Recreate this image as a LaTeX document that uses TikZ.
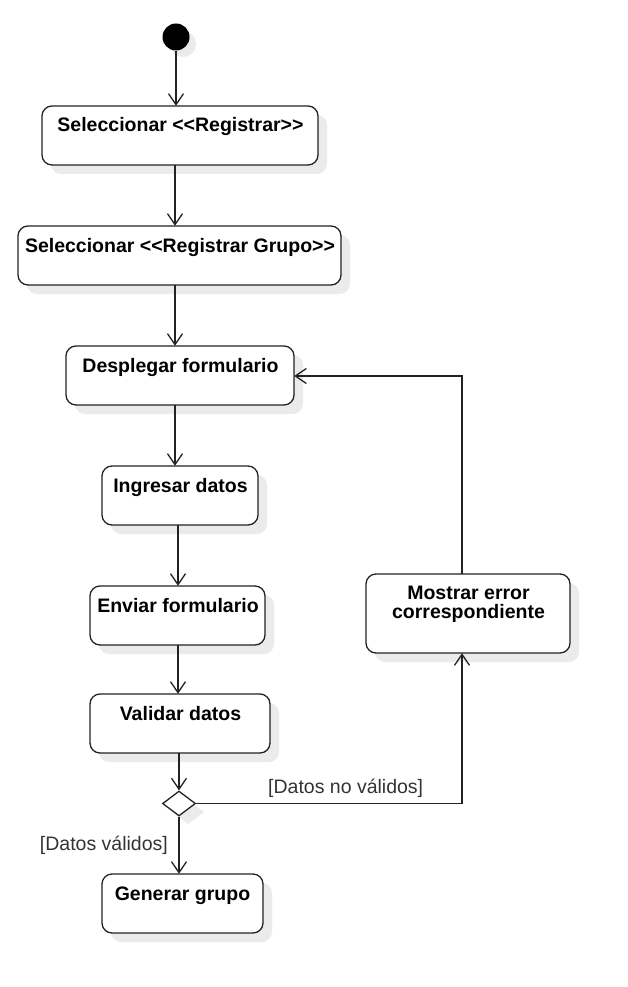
\documentclass[tikz,border=0pt]{standalone}
\usepackage{fontspec}
\setmainfont{Liberation Sans}
\usetikzlibrary{arrows.meta,shapes.geometric}
\definecolor{ln}{HTML}{222222}
\definecolor{shd}{HTML}{EBEBEB}
\definecolor{lbl}{HTML}{333333}
\tikzset{
  act/.style={draw=ln,line width=1.3pt,rounded corners=10pt,fill=white},
  actshadow/.style={fill=shd,rounded corners=10pt},
  acttext/.style={font=\fontsize{19.5}{19}\selectfont\bfseries,align=center,inner sep=0pt,anchor=base},
  flow/.style={draw=ln,line width=1.3pt,-{Straight Barb[length=11pt,width=15pt,line width=1.3pt]}},
  guard/.style={font=\fontsize{19.5}{20}\selectfont,text=lbl,inner sep=0pt},
}
\newcommand{\actbox}[5]{% name, x1,y1,x2,y2
  \fill[actshadow] (#2+9,#3+9) rectangle (#4+9,#5+9);
  \draw[act] (#2,#3) rectangle (#4,#5);
  \node[inner sep=0pt,minimum width=#4-#2,minimum height=#5-#3] (#1) at ({(#2+#4)/2},{(#3+#5)/2}) {};
}
\newcommand{\ltlt}{{<}{<}}
\newcommand{\gtgt}{{>}{>}}
\begin{document}
\begin{tikzpicture}[x=1pt,y=-1pt]
\useasboundingbox (0,0) rectangle (627,987);
% columns for vertical flows
\coordinate (xa) at (175,0);
\coordinate (xb) at (178,0);
\coordinate (xr) at (462,0);
% start
\fill[shd] (183,44) circle (13);
\node[circle,fill=black,minimum size=27pt,inner sep=0pt] (start) at (176,37) {};
% boxes
\actbox{a1}{42}{106}{318}{165}
\node[acttext] (t1) at (180.5,132) {Seleccionar \ltlt Registrar\gtgt};
\actbox{a2}{18}{226}{341}{285}
\node[acttext] (t2) at (180,252) {Seleccionar \ltlt Registrar Grupo\gtgt};
\actbox{a3}{66}{346}{294}{405}
\node[acttext] (t3) at (180.5,372) {Desplegar formulario};
\actbox{a4}{102}{466}{258}{525}
\node[acttext] (t4) at (180.5,492) {Ingresar datos};
\actbox{a5}{90}{586}{265}{645}
\node[acttext] (t5) at (178,612) {Enviar formulario};
\actbox{a6}{90}{694}{270}{753}
\node[acttext] (t6) at (180.5,720) {Validar datos};
\actbox{a7}{102}{874}{263}{933}
\node[acttext] (t7) at (182.5,900) {Generar grupo};
\actbox{a8}{366}{574}{570}{653}
\node[acttext] (t8) at (468.5,618) {Mostrar error\\correspondiente};
% decision
\fill[shd] (188,800) -- (204,812) -- (188,824) -- (172,812) -- cycle;
\node[diamond,draw=ln,line width=1.3pt,fill=white,minimum width=33pt,minimum height=25pt,inner sep=0pt] (d) at (179,803.5) {};
% flows
\draw[flow] (start.south) -- (start.south |- a1.north);
\draw[flow] (a1.south -| xa) -- (a2.north -| xa);
\draw[flow] (a2.south -| xa) -- (a3.north -| xa);
\draw[flow] (a3.south -| xa) -- (a4.north -| xa);
\draw[flow] (a4.south -| xb) -- (a5.north -| xb);
\draw[flow] (a5.south -| xb) -- (a6.north -| xb);
\draw[flow] (a6.south -| d.north) -- (d.north);
\draw[flow] (d.south) -- (d.south |- a7.north);
\coordinate (c1) at (462,803.5);
\draw[flow] (d.east) -- (c1) -- (a8.south -| xr);
\coordinate (c2) at (462,376);
\draw[flow] (a8.north -| xr) -- (c2) -- (c2 -| a3.east);
% guards
\node[guard,anchor=base west] (g1) at (268,793) {[Datos no válidos]};
\node[guard,anchor=base east] (g2) at (168,850) {[Datos válidos]};
\end{tikzpicture}
\end{document}
